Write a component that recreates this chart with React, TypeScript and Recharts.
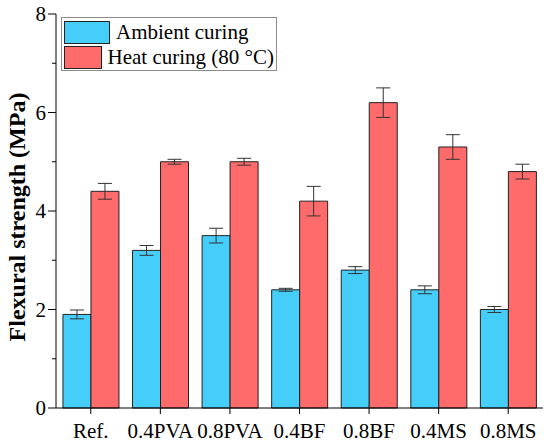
import React from 'react';
import { BarChart, Bar, XAxis, YAxis, ErrorBar, Legend } from 'recharts';

const categories = ['Ref.', '0.4PVA', '0.8PVA', '0.4BF', '0.8BF', '0.4MS', '0.8MS'];
const ambient = [1.9, 3.2, 3.5, 2.4, 2.8, 2.4, 2.0];
const ambientErr = [0.09, 0.1, 0.15, 0.03, 0.07, 0.08, 0.06];
const heat = [4.4, 5.0, 5.0, 4.2, 6.2, 5.3, 4.8];
const heatErr = [0.16, 0.05, 0.07, 0.3, 0.3, 0.25, 0.15];
const yTicks = [0, 1, 2, 3, 4, 5, 6, 7, 8];

const FONT = '"Liberation Serif", "Times New Roman", serif';
const BLUE = '#46CEFB';
const RED = '#FF6B6B';

const data = categories.map((name, i) => ({
    name,
    ambient: ambient[i],
    ambientErr: ambientErr[i],
    heat: heat[i],
    heatErr: heatErr[i],
}));

// left axis tick: long tick + label on even values, short tick on odd
const YTick = (props: any) => {
    const { x, y, payload } = props;
    const axisX = x + 10;
    const major = payload.value % 2 === 0;
    return (
        <g>
            <line x1={axisX - (major ? 8 : 4)} x2={axisX} y1={y} y2={y} stroke="#000" strokeWidth={1} />
            {major && (
                <text x={x} y={y} dy="0.355em" textAnchor="end" fill="#000" fontSize={21} fontFamily={FONT}>
                    {payload.value}
                </text>
            )}
        </g>
    );
};

const LegendBox = () => {
    const items = [
        { label: 'Ambient curing', color: BLUE },
        { label: 'Heat curing (80 °C)', color: RED },
    ];
    return (
        <div style={{
            border: '1px solid #8c8c8c',
            background: '#fff',
            width: 216,
            height: 54,
            padding: '2px 2px',
            boxSizing: 'border-box',
            fontFamily: FONT,
            fontSize: 21,
            color: '#000',
        }}>
            {items.map(it => (
                <div key={it.label} style={{ display: 'flex', alignItems: 'center', height: 25 }}>
                    <span style={{
                        display: 'inline-block',
                        width: 44,
                        height: 21,
                        background: it.color,
                        border: '1px solid #222',
                        marginRight: 6,
                    }} />
                    <span style={{ lineHeight: '25px', whiteSpace: 'nowrap' }}>{it.label}</span>
                </div>
            ))}
        </div>
    );
};

export default function App() {
    return (
        <div style={{ position: 'absolute', left: 0, top: 0, background: '#fff' }}>
            <BarChart
                width={550}
                height={444}
                data={data}
                margin={{ top: 14, right: 7, left: 0, bottom: 0 }}
                barCategoryGap="10%"
                barGap={0}
            >
                <XAxis
                    dataKey="name"
                    height={36}
                    axisLine={{ stroke: '#000', strokeWidth: 1 }}
                    tickLine={{ stroke: '#000', strokeWidth: 1 }}
                    tickSize={6}
                    tickMargin={9}
                    tick={{ fill: '#000', fontSize: 21, fontFamily: FONT }}
                    interval={0}
                />
                <XAxis
                    xAxisId="top"
                    dataKey="name"
                    orientation="top"
                    height={0}
                    tick={false}
                    tickLine={false}
                    axisLine={{ stroke: '#b4b4b4', strokeWidth: 1 }}
                />
                <YAxis
                    width={56}
                    domain={[0, 8]}
                    ticks={yTicks}
                    interval={0}
                    tickSize={8}
                    tickMargin={2}
                    tickLine={false}
                    axisLine={{ stroke: '#000', strokeWidth: 1 }}
                    tick={<YTick />}
                    label={{
                        content: () => (
                            <text
                                x={25}
                                y={217}
                                transform="rotate(-90 25 217)"
                                textAnchor="middle"
                                fontSize={24}
                                fontWeight="bold"
                                fontFamily={FONT}
                                fill="#000"
                            >
                                Flexural strength (MPa)
                            </text>
                        ),
                    }}
                />
                <YAxis
                    yAxisId="right"
                    orientation="right"
                    width={0}
                    domain={[0, 8]}
                    tick={false}
                    tickLine={false}
                    axisLine={{ stroke: '#b4b4b4', strokeWidth: 1 }}
                />
                <Legend
                    layout="horizontal"
                    verticalAlign="middle"
                    content={<LegendBox />}
                    wrapperStyle={{ top: 17, left: 61, width: 216, height: 54 }}
                />
                <Bar dataKey="ambient" fill={BLUE} stroke="#222" strokeWidth={1} isAnimationActive={false}>
                    <ErrorBar dataKey="ambientErr" width={7} stroke="#333" strokeWidth={1} />
                </Bar>
                <Bar dataKey="heat" fill={RED} stroke="#222" strokeWidth={1} isAnimationActive={false}>
                    <ErrorBar dataKey="heatErr" width={7} stroke="#333" strokeWidth={1} />
                </Bar>
            </BarChart>
        </div>
    );
}
